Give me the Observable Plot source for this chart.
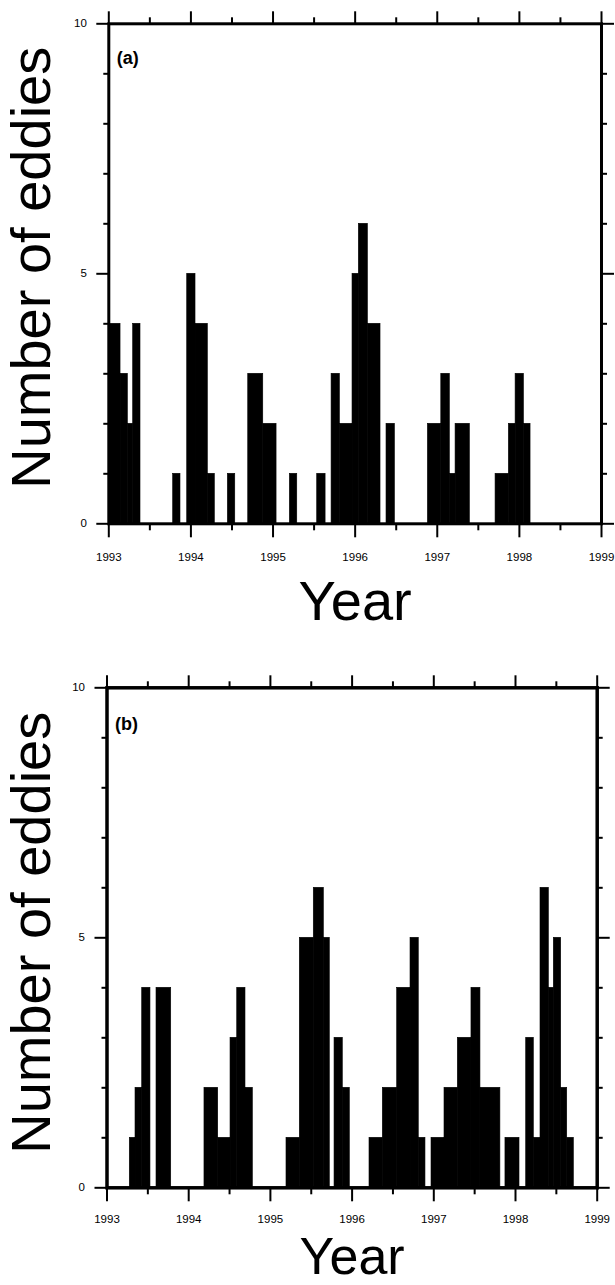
<!DOCTYPE html>
<html>
<head>
<meta charset="utf-8">
<script src="https://cdn.jsdelivr.net/npm/d3@7"></script>
<script src="https://cdn.jsdelivr.net/npm/@observablehq/plot@0.6"></script>
<style>
  html, body { margin: 0; padding: 0; background: white; }
  svg { display: block; }
</style>
</head>
<body>
<script>
// ---- Data (bin start, bin end in decimal years; eddy counts) ----
// Panel (a)
const aStart = [1993.000, 1993.143, 1993.232, 1993.297, 1993.784, 1993.955, 1994.056, 1994.206, 1994.450,
  1994.698, 1994.881, 1995.205, 1995.538, 1995.713, 1995.814, 1995.968, 1996.045, 1996.155, 1996.382,
  1996.886, 1997.049, 1997.153, 1997.223, 1997.710, 1997.872, 1997.954, 1998.055];
const aEnd = [1993.143, 1993.232, 1993.297, 1993.386, 1993.873, 1994.056, 1994.206, 1994.291, 1994.540,
  1994.881, 1995.043, 1995.295, 1995.640, 1995.814, 1995.968, 1996.045, 1996.155, 1996.309, 1996.484,
  1997.049, 1997.153, 1997.223, 1997.397, 1997.872, 1997.954, 1998.055, 1998.136];
const aCount = [4, 3, 2, 4, 1, 5, 4, 1, 1, 3, 2, 1, 1, 3, 2, 5, 6, 4, 2, 2, 3, 1, 2, 1, 2, 3, 2];

// Panel (b)
const bStart = [1993.279, 1993.349, 1993.431, 1993.606, 1994.193, 1994.361, 1994.512, 1994.594, 1994.695,
  1995.197, 1995.360, 1995.531, 1995.654, 1995.785, 1995.886, 1996.213, 1996.376, 1996.552, 1996.715,
  1996.816, 1996.972, 1997.131, 1997.294, 1997.461, 1997.571, 1997.877, 1998.131, 1998.224, 1998.306,
  1998.408, 1998.469, 1998.559, 1998.633];
const bEnd = [1993.349, 1993.431, 1993.532, 1993.786, 1994.361, 1994.512, 1994.594, 1994.695, 1994.785,
  1995.360, 1995.531, 1995.654, 1995.727, 1995.886, 1995.972, 1996.376, 1996.552, 1996.715, 1996.816,
  1996.898, 1997.131, 1997.294, 1997.461, 1997.571, 1997.815, 1998.049, 1998.224, 1998.306, 1998.408,
  1998.469, 1998.559, 1998.633, 1998.714];
const bCount = [1, 2, 4, 4, 2, 1, 3, 4, 2, 1, 5, 6, 5, 3, 2, 1, 2, 4, 5, 1, 1, 2, 3, 4, 2, 1, 3, 1, 6, 4, 5, 2, 1];

// Ticks and labels
const yearTicks = [1993, 1994, 1995, 1996, 1997, 1998, 1999];
const halfYearTicks = [1993.5, 1994.5, 1995.5, 1996.5, 1997.5, 1998.5];
const yMajorTicks = [0, 5, 10];
const yMinorTicks = [1, 2, 3, 4, 6, 7, 8, 9];
const xTitle = "Year";
const yTitle = "Number of eddies";
const panelLabels = ["(a)", "(b)"];

const FONT = "'Liberation Sans', Arial, Helvetica, sans-serif";
const blank = () => "";

function panel({starts, ends, counts, label, height, mt, mb, ml, mr, frameW, yTitleDx, yTitleDy, xTitleDy, xTitleSize, tickPad, labelDy}) {
  return Plot.plot({
    width: 615,
    height,
    marginTop: mt,
    marginBottom: mb,
    marginLeft: ml,
    marginRight: mr,
    style: {fontFamily: FONT, background: "white", color: "black", overflow: "visible"},
    x: {domain: [1993, 1999], axis: null},
    y: {domain: [0, 10], axis: null},
    marks: [
      Plot.rect(counts, {x1: starts, x2: ends, y1: 0, y2: counts, fill: "black", stroke: "black", strokeWidth: 0.6}),
      Plot.frame({stroke: "black", strokeWidth: frameW}),
      // x ticks bottom
      Plot.axisX(yearTicks, {anchor: "bottom", tickSize: 14, strokeWidth: 2, tickFormat: blank, label: null}),
      Plot.axisX(halfYearTicks, {anchor: "bottom", tickSize: 7, strokeWidth: 2, tickFormat: blank, label: null}),
      Plot.axisX(yearTicks, {anchor: "bottom", tickSize: 0, tickPadding: tickPad, fontSize: 11.5, fontWeight: 500, tickFormat: d => String(d), label: null}),
      // x ticks top
      Plot.axisX(yearTicks, {anchor: "top", tickSize: 13, strokeWidth: 2, tickFormat: blank, label: null}),
      Plot.axisX(halfYearTicks, {anchor: "top", tickSize: 7, strokeWidth: 2, tickFormat: blank, label: null}),
      // y ticks left
      Plot.axisY(yMajorTicks, {anchor: "left", tickSize: 12, strokeWidth: 2, tickFormat: blank, label: null}),
      Plot.axisY(yMinorTicks, {anchor: "left", tickSize: 5, strokeWidth: 2, tickFormat: blank, label: null}),
      Plot.axisY(yMajorTicks, {anchor: "left", tickSize: 0, tickPadding: 22, fontSize: 11.5, tickFormat: d => String(d), label: null}),
      // y ticks right
      Plot.axisY(yMajorTicks, {anchor: "right", tickSize: 12, strokeWidth: 2, tickFormat: blank, label: null}),
      Plot.axisY(yMinorTicks, {anchor: "right", tickSize: 5, strokeWidth: 2, tickFormat: blank, label: null}),
      // titles
      Plot.text([xTitle], {frameAnchor: "bottom", dy: xTitleDy, fontSize: xTitleSize, textAnchor: "middle", lineAnchor: "middle", text: d => d}),
      Plot.text([yTitle], {frameAnchor: "left", rotate: -90, dx: yTitleDx, dy: yTitleDy, fontSize: 56, textAnchor: "middle", lineAnchor: "middle", text: d => d}),
      Plot.text([label], {frameAnchor: "top-left", dx: 8, dy: labelDy, fontSize: 18, fontWeight: "bold", textAnchor: "start", lineAnchor: "middle", text: d => d})
    ]
  });
}

const svgA = panel({
  starts: aStart, ends: aEnd, counts: aCount, label: panelLabels[0],
  height: 642, mt: 23.3, mb: 118.7, ml: 108.3, mr: 14, frameW: 3,
  yTitleDx: -76.3, yTitleDy: -6, xTitleDy: 78.7, xTitleSize: 56, tickPad: 29, labelDy: 34
});
const svgB = panel({
  starts: bStart, ends: bEnd, counts: bCount, label: panelLabels[1],
  height: 643, mt: 45.3, mb: 97.7, ml: 106.5, mr: 18.3, frameW: 3.5,
  yTitleDx: -74.5, yTitleDy: -5, xTitleDy: 70, xTitleSize: 52, tickPad: 27, labelDy: 36
});
document.body.appendChild(svgA);
document.body.appendChild(svgB);
</script>
</body>
</html>
